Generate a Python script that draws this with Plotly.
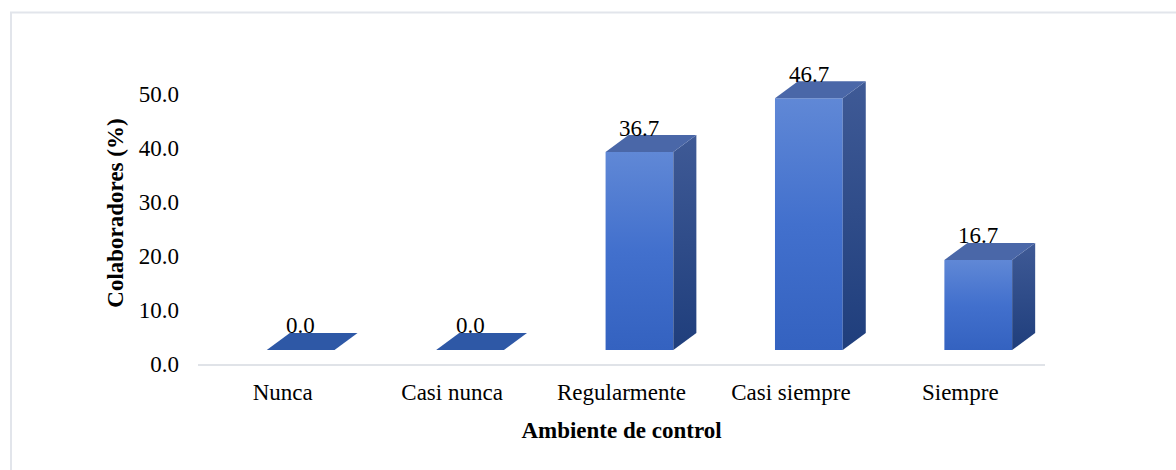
import plotly.graph_objects as go

# Data
categorias = ["Nunca", "Casi nunca", "Regularmente", "Casi siempre", "Siempre"]
porcentajes = [0.0, 0.0, 36.7, 46.7, 16.7]
ticks_y = [0, 10, 20, 30, 40, 50]

# Pseudo-3D column geometry, in axis units
ANCHO = 0.40      # front face width (category units)
DESPL = 0.106     # horizontal shift of the columns from the category centre
PROF_X = 0.136    # depth, horizontal component
PROF_Y = 3.15     # depth, vertical component (value units)
ELEV = 2.6        # floor lift of the front faces

FRENTE = [[0, "#3462c0"], [0.5, "#4270cd"], [1, "#6088d6"]]
LADO = [[0, "#1f3e7c"], [1, "#3f5a96"]]

FUENTE = "Liberation Serif, Times New Roman, serif"

fig = go.Figure()

for i, v in enumerate(porcentajes):
    x0 = i + DESPL - ANCHO / 2
    x1 = x0 + ANCHO
    yb = ELEV
    yt = ELEV + v
    if v > 0:
        # front face
        fig.add_trace(go.Scatter(
            x=[x0, x1, x1, x0, x0], y=[yb, yb, yt, yt, yb],
            fill="toself", mode="none",
            fillgradient=dict(type="vertical", colorscale=FRENTE),
            hoverinfo="skip", showlegend=False))
        # right side face
        fig.add_trace(go.Scatter(
            x=[x1, x1 + PROF_X, x1 + PROF_X, x1, x1],
            y=[yb, yb + PROF_Y, yt + PROF_Y, yt, yb],
            fill="toself", mode="none",
            fillgradient=dict(type="vertical", colorscale=LADO),
            hoverinfo="skip", showlegend=False))
    # top face
    color_tapa = "#4a67a8" if v > 0 else "#2e58a6"
    fig.add_trace(go.Scatter(
        x=[x0, x1, x1 + PROF_X, x0 + PROF_X, x0],
        y=[yt, yt, yt + PROF_Y, yt + PROF_Y, yt],
        fill="toself", mode="none", fillcolor=color_tapa,
        hoverinfo="skip", showlegend=False))
    # value label
    fig.add_annotation(
        x=i + DESPL, y=yt + PROF_Y, text=f"{v:.1f}",
        showarrow=False, yanchor="middle", yshift=7,
        font=dict(family=FUENTE, size=23, color="#000000"))

# Chart frame
fig.add_shape(type="rect", xref="paper", yref="paper",
              x0=-0.2208, x1=1.16, y0=-0.37, y1=1.164,
              line=dict(color="#e2e5eb", width=2), layer="below")

fig.update_layout(
    width=1176, height=470,
    margin=dict(l=198, r=131, t=62, b=106),
    paper_bgcolor="white", plot_bgcolor="white",
    font=dict(family=FUENTE, size=23, color="#000000"),
    xaxis=dict(
        range=[-0.5, 4.5], tickvals=list(range(len(categorias))),
        ticktext=categorias, showgrid=False, zeroline=False,
        showline=True, linecolor="#e0e3e8", linewidth=2,
        ticks="", ticklabelstandoff=6,
        title=dict(text="<b>Ambiente de control</b>", standoff=18,
                   font=dict(family=FUENTE, size=23))),
    yaxis=dict(
        range=[0, 56], tickvals=ticks_y,
        ticktext=[f"{t:.1f}" for t in ticks_y],
        showgrid=False, zeroline=False, showline=False,
        ticks="", ticklabelstandoff=18,
        title=dict(text="<b>Colaboradores (%)</b>", standoff=8,
                   font=dict(family=FUENTE, size=23))),
)

fig.write_html("out.html")
